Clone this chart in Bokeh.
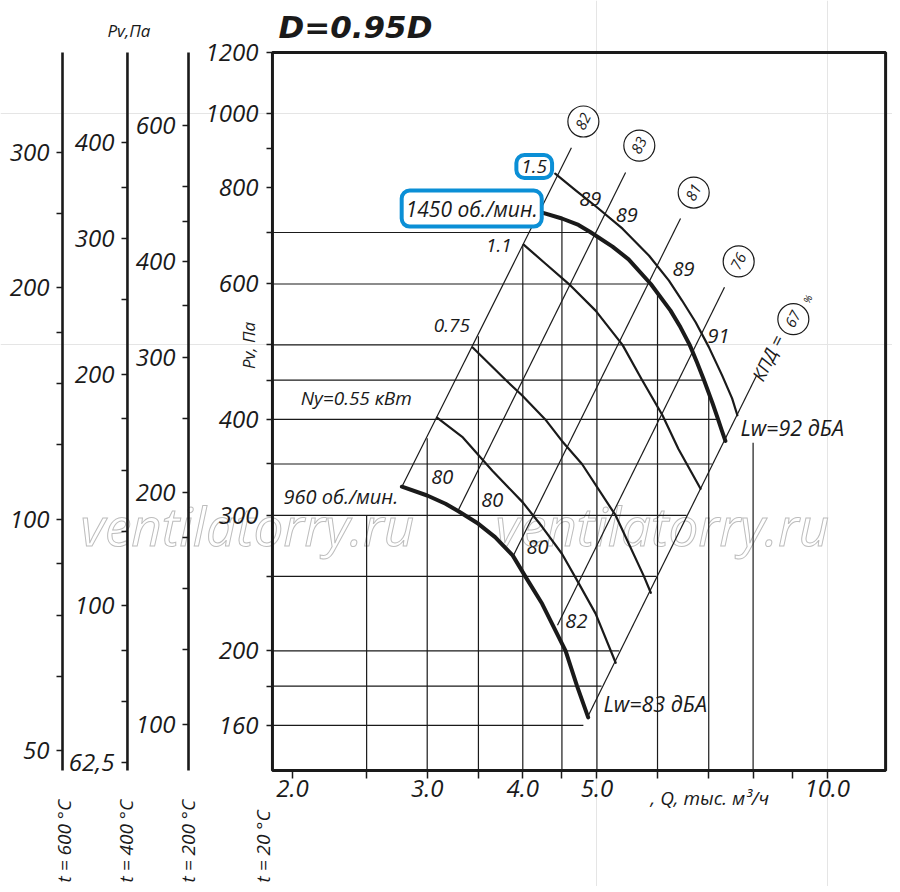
from math import pi
from bokeh.plotting import figure
from bokeh.models import (Range1d, LogScale, LogAxis, FixedTicker,
                          CustomJSTickFormatter, Label)
from bokeh.embed import file_html
from bokeh.resources import INLINE
from bokeh.core.properties import value

# ------------------------------------------------------------------ data
# the canvas is mapped onto log ranges; the chart box is a sub-range of it
CANVAS_Q = [0.8306, 12.17]        # Q, thousand m3/h across the whole canvas
CANVAS_P = [98.77, 1402.2]        # Pv (20 C), Pa across the whole canvas
BOX_Q = [1.883, 11.92]            # chart box
BOX_P = [139.8, 1200.0]
T600_RANGE = [33.31, 472.9]       # Pv scale at 600 C (same canvas height)
T400_RANGE = [43.13, 612.3]       # Pv scale at 400 C
T200_RANGE = [61.50, 873.1]       # Pv scale at 200 C

T600_MAJOR = [50, 100, 200, 300]
T600_MINOR = [62.5, 75, 87.5, 125, 150, 175, 250]
T400_MAJOR = [62.5, 100, 200, 300, 400]
T400_MINOR = [75, 87.5, 125, 150, 175, 250, 350]
T200_MAJOR = [100, 200, 300, 400, 600]
T200_MINOR = [125, 150, 175, 250, 350, 450, 500]
PV_MAJOR = [160, 200, 300, 400, 600, 800, 1000, 1200]
PV_MINOR = [180, 250, 350, 450, 500, 700, 900]
Q_MAJOR = [2, 3, 4, 5, 10]
Q_MINOR = [2.5, 3.5, 4.5, 6, 7, 8, 9]

# horizontal grid lines (P) and the Q where each one stops
GRID_P = [700, 600, 500, 450, 400, 350, 300, 250, 200, 180, 160]
GRID_P_END_Q = [4.90, 5.88, 6.61, 6.90, 7.20, 7.07, 6.55, 5.98, 5.35, 5.07, 4.80]
# vertical grid lines (Q) and the P where each one stops
GRID_Q = [2.5, 3.0, 3.5, 4.0, 4.5, 5.0, 6.0, 7.0, 8.0]
GRID_Q_TOP_P = [300, 378, 513, 673, 730, 692, 585, 433, 373]

# fan curves
RPM960_Q = [2.78, 3.00, 3.17, 3.30, 3.50, 3.68, 3.88, 4.03, 4.24, 4.55, 4.71, 4.87]
RPM960_P = [327, 318.5, 310.7, 303.6, 292.6, 281.2, 266.2, 250, 230.3, 200, 180, 163.9]
N055_Q = [3.09, 3.34, 3.65, 4.00, 4.24, 4.50, 4.71, 4.98, 5.29]
N055_P = [402, 379, 343, 312, 290, 267.5, 247, 223.6, 193]
N075_Q = [3.44, 3.80, 3.99, 4.28, 4.50, 4.78, 5.29, 5.76, 5.88]
N075_P = [496, 450, 430, 400, 375, 350, 300, 250, 238]
N110_Q = [4.01, 4.28, 4.62, 4.98, 5.40, 5.72, 6.09, 6.39, 6.83]
N110_P = [675, 638, 597, 554, 500, 451, 405, 366, 325]
RPM1450_Q = [4.22, 4.50, 4.73, 4.90, 5.24, 5.50, 5.88, 6.24, 6.43, 6.61,
             6.76, 6.90, 7.08, 7.20, 7.28, 7.36]
RPM1450_P = [744, 730, 716, 701, 671, 646, 600, 554, 527, 500,
             474, 450, 420, 400, 387, 375]
N150_Q = [4.41, 4.69, 5.00, 5.40, 5.85, 6.21, 6.46, 6.73, 7.00, 7.29, 7.51, 7.63]
N150_P = [835, 794, 755, 708, 653, 606, 571, 535, 497, 456, 426, 405]

# efficiency lines (P ~ Q^2), end points, and their circled values
EFF_VALUES = ["82", "83", "81", "76", "67"]
EFF_Q_LO = [2.78, 3.29, 3.88, 4.44, 4.86]
EFF_P_LO = [327, 304, 265, 216, 164]
EFF_Q_HI = [4.63, 5.45, 6.43, 7.34, 8.09]
EFF_P_HI = [902, 838, 730, 594, 457]
EFF_MARK_Q = [4.80, 5.68, 6.69, 7.66, 9.03]
EFF_MARK_P = [976, 908, 789, 642, 540]

# noise values along the curves
LW_TEXT = ["89", "89", "89", "91", "80", "80", "80", "82"]
LW_Q = [4.90, 5.47, 6.49, 7.21, 3.14, 3.65, 4.18, 4.70]
LW_P = [775, 737, 628, 513, 337, 314, 273, 219]

# Q positions (left of the box) where the temperature scales stand
T_AXIS_Q = [1.0010, 1.2171, 1.4626]

# ------------------------------------------------------------------ style / layout
FONT = "Open Sans"
INK = "#1a1a1a"
BLUE = "#0b8fd6"
WATER = "#bdbdbd"
SLOPE_ANGLE = 1.107           # direction of the efficiency lines on screen
W, H = 892, 886

p = figure(width=W, height=H, x_axis_type="log", y_axis_type="log",
           x_range=Range1d(*CANVAS_Q), y_range=Range1d(*CANVAS_P),
           x_axis_location=None, y_axis_location=None,
           output_backend="svg", toolbar_location=None,
           min_border_left=0, min_border_right=0,
           min_border_top=0, min_border_bottom=0,
           outline_line_color=None)
p.extra_y_ranges = {"t600": Range1d(*T600_RANGE),
                    "t400": Range1d(*T400_RANGE),
                    "t200": Range1d(*T200_RANGE)}
p.extra_y_scales = {"t600": LogScale(), "t400": LogScale(), "t200": LogScale()}


def lab(text, x, y, xu="data", yu="data", size="19px", align="left",
        baseline="middle", angle=0.0, style="italic", color=INK,
        font=FONT, **kw):
    p.add_layout(Label(x=x, y=y, x_units=xu, y_units=yu, text=text,
                       text_font=font, text_font_size=size,
                       text_font_style=style, text_color=color,
                       text_align=align, text_baseline=baseline,
                       angle=angle, **kw))


def style_axis(ax, standoff, tick_out=6):
    ax.axis_line_color = None
    ax.major_tick_out = tick_out
    ax.major_tick_in = 0
    ax.minor_tick_out = tick_out
    ax.minor_tick_in = 0
    ax.major_tick_line_width = 1.5
    ax.minor_tick_line_width = 1.5
    ax.major_tick_line_color = INK
    ax.minor_tick_line_color = INK
    ax.major_label_text_font = FONT
    ax.major_label_text_font_style = "italic"
    ax.major_label_text_font_size = "24px"
    ax.major_label_text_color = INK
    ax.major_label_standoff = standoff


# watermark (outlined letters, under everything)
for wx in [80, 495]:
    p.add_layout(Label(x=wx, y=361, x_units="screen", y_units="screen",
                       text="ventilatorry.ru", text_font=FONT,
                       text_font_size="53px", text_font_style="italic",
                       text_color="white", text_outline_color=WATER,
                       text_align="left", text_baseline="middle",
                       level="underlay"))

# temperature scales
fmt_t = "return tick == 62.5 ? '62,5' : String(tick)"
for name, major, minor, xloc in [("t600", T600_MAJOR, T600_MINOR, T_AXIS_Q[0]),
                                 ("t400", T400_MAJOR, T400_MINOR, T_AXIS_Q[1]),
                                 ("t200", T200_MAJOR, T200_MINOR, T_AXIS_Q[2])]:
    ax = LogAxis(y_range_name=name, fixed_location=xloc,
                 ticker=FixedTicker(ticks=major, minor_ticks=minor),
                 formatter=CustomJSTickFormatter(code=fmt_t))
    style_axis(ax, 7)
    p.add_layout(ax, "left")
p.segment(x0=T_AXIS_Q, y0=[BOX_P[0]] * 3, x1=T_AXIS_Q, y1=[BOX_P[1]] * 3,
          line_color=INK, line_width=2.6)

# main axes
yax = LogAxis(fixed_location=BOX_Q[0],
              ticker=FixedTicker(ticks=PV_MAJOR, minor_ticks=PV_MINOR),
              formatter=CustomJSTickFormatter(code="return String(tick)"))
style_axis(yax, 8)
p.add_layout(yax, "left")
xax = LogAxis(fixed_location=BOX_P[0],
              ticker=FixedTicker(ticks=Q_MAJOR, minor_ticks=Q_MINOR),
              formatter=CustomJSTickFormatter(code="return tick.toFixed(1)"))
style_axis(xax, 2, tick_out=8)
p.add_layout(xax, "below")

# grid
p.segment(x0=[BOX_Q[0]] * len(GRID_P), y0=GRID_P, x1=GRID_P_END_Q, y1=GRID_P,
          line_color=INK, line_width=1.2)
p.segment(x0=GRID_Q, y0=[BOX_P[0]] * len(GRID_Q), x1=GRID_Q, y1=GRID_Q_TOP_P,
          line_color=INK, line_width=1.2)

# efficiency lines
p.segment(x0=EFF_Q_LO, y0=EFF_P_LO, x1=EFF_Q_HI, y1=EFF_P_HI,
          line_color=INK, line_width=1.2)

# curves
for qs, ps, w in [(N055_Q, N055_P, 2.2), (N075_Q, N075_P, 2.2),
                  (N110_Q, N110_P, 2.2), (N150_Q, N150_P, 2.2),
                  (RPM960_Q, RPM960_P, 4), (RPM1450_Q, RPM1450_P, 4)]:
    p.line(qs, ps, line_color=INK, line_width=w, line_join="round", line_cap="round")

# chart box
p.quad(left=[BOX_Q[0]], right=[BOX_Q[1]], bottom=[BOX_P[0]], top=[BOX_P[1]],
       fill_color=None, line_color=INK, line_width=3)

# efficiency marks
p.scatter(EFF_MARK_Q, EFF_MARK_P, marker="circle", size=31,
          fill_color="white", line_color=INK, line_width=1.2)
p.text(EFF_MARK_Q, EFF_MARK_P, text=EFF_VALUES, angle=SLOPE_ANGLE,
       text_align="center", text_baseline="middle", text_font=value(FONT),
       text_font_style="italic", text_font_size="15px", text_color=INK)

# noise values
p.text(LW_Q, LW_P, text=LW_TEXT, text_align="center", text_baseline="middle",
       text_font=value(FONT), text_font_style="italic", text_font_size="20px",
       text_color=INK)

# labels inside the chart
lab("Ny=0.55 кВт", 2.05, 427)
lab("0.75", 3.06, 530)
lab("1.1", 3.58, 673)
lab("960 об./мин.", 2.75, 318, align="right", size="20px")
lab("1.5", 4.14, 853, align="center", background_fill_color="white",
    border_line_color=BLUE, border_line_width=4, border_radius=8, padding=5)
lab("1450 об./мин.", 3.43, 752, align="center", size="21px",
    background_fill_color="white",
    border_line_color=BLUE, border_line_width=4, border_radius=8, padding=4)
lab("Lw=92 дБА", 7.70, 390, size="21.5px")
lab("Lw=83 дБА", 5.10, 171, size="21.5px")
lab("КПД =", 8.36, 481, align="center", size="18px", angle=SLOPE_ANGLE)
lab("%", 9.42, 574, align="center", size="10px", angle=SLOPE_ANGLE)

# labels round the chart (screen units, from the canvas bottom-left)
lab("D=0.95D", 278, 860, "screen", "screen", size="31px",
    style="bold italic", font="DejaVu Sans")
lab("Pv,Па", 107, 856, "screen", "screen", size="17px")
lab("Pv, Па", 248, 541, "screen", "screen", size="17px", align="center",
    angle=pi / 2)
lab(", Q, тыс. м³/ч", 650, 89, "screen", "screen", size="19px")
for txt, xs in [("t = 600 °C", 63), ("t = 400 °C", 125),
                ("t = 200 °C", 187), ("t = 20 °C", 262)]:
    lab(txt, xs, 4, "screen", "screen", angle=pi / 2)

open("out.html", "w").write(file_html(p, INLINE))
